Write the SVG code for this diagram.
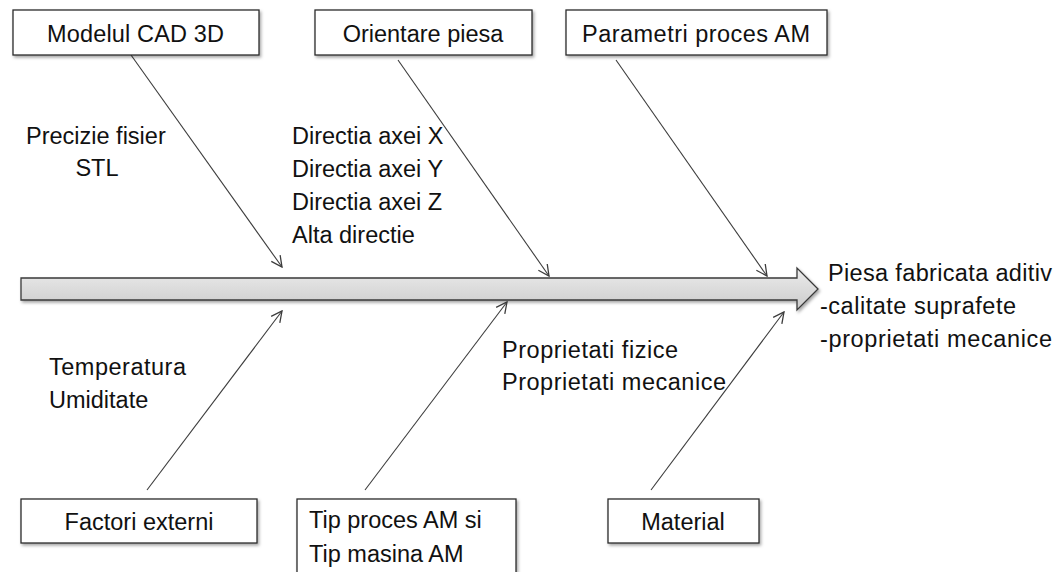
<svg xmlns="http://www.w3.org/2000/svg" width="1055" height="572" viewBox="0 0 1055 572">
<defs>
<style>
.box{fill:#fff;stroke:#2b2b2b;stroke-width:1.3;filter:url(#sh)}
.t{font-family:"Liberation Sans",Arial,sans-serif;font-size:23.5px;fill:#111}
.c{text-anchor:middle}
.ln{stroke:#3c3c3c;stroke-width:1.1;fill:none;marker-end:url(#ah)}
</style>
<filter id="sh" x="-10%" y="-20%" width="120%" height="150%">
<feDropShadow dx="1.5" dy="2" stdDeviation="1.5" flood-color="#000" flood-opacity="0.35"/>
</filter>
<linearGradient id="g" x1="0" y1="0" x2="0" y2="1">
<stop offset="0" stop-color="#ececec"/>
<stop offset="1" stop-color="#cbcbcb"/>
</linearGradient>
<marker id="ah" viewBox="0 0 12 12" refX="11" refY="6" markerWidth="13" markerHeight="13" markerUnits="userSpaceOnUse" orient="auto">
<path d="M1,1 L11,6 L1,11" fill="none" stroke="#3c3c3c" stroke-width="1.2"/>
</marker>
</defs>

<g id="spine">
<path d="M21,278 L797,278 L797,268 L818,289 L797,310 L797,300 L21,300 Z" fill="url(#g)" stroke="#3a3a3a" stroke-width="1.3" filter="url(#sh)"/>
</g>

<g id="connectors">
<line class="ln" x1="131" y1="55" x2="282" y2="267"/>
<line class="ln" x1="398" y1="60" x2="549" y2="276"/>
<line class="ln" x1="616" y1="60" x2="767" y2="276"/>
<line class="ln" x1="147" y1="490" x2="282" y2="311"/>
<line class="ln" x1="365" y1="490" x2="507" y2="302"/>
<line class="ln" x1="651" y1="490" x2="784" y2="312"/>
</g>

<g id="n-modelul">
<rect class="box" x="13" y="10" width="246" height="45"/>
<text class="t" x="47" y="42" textLength="177" lengthAdjust="spacing">Modelul CAD 3D</text>
</g>
<g id="n-orientare">
<rect class="box" x="315" y="10" width="217" height="45"/>
<text class="t c" x="423" y="42">Orientare piesa</text>
</g>
<g id="n-parametri">
<rect class="box" x="566" y="10" width="261" height="45"/>
<text class="t" x="582" y="42" textLength="228" lengthAdjust="spacing">Parametri proces AM</text>
</g>
<g id="n-factori">
<rect class="box" x="21" y="499" width="236" height="44"/>
<text class="t c" x="139" y="530">Factori externi</text>
</g>
<g id="n-tip">
<rect class="box" x="297" y="499" width="219" height="80"/>
<text class="t" x="309" y="528">Tip proces AM si</text>
<text class="t" x="309" y="562">Tip masina AM</text>
</g>
<g id="n-material">
<rect class="box" x="608" y="499" width="151" height="44"/>
<text class="t c" x="683" y="530">Material</text>
</g>

<g id="labels">
<text class="t" x="26" y="144">Precizie fisier</text>
<text class="t c" x="97" y="176">STL</text>
<text class="t" x="292" y="144">Directia axei X</text>
<text class="t" x="292" y="177">Directia axei Y</text>
<text class="t" x="292" y="210">Directia axei Z</text>
<text class="t" x="292" y="243">Alta directie</text>
<text class="t" x="49" y="375" textLength="137" lengthAdjust="spacing">Temperatura</text>
<text class="t" x="49" y="408">Umiditate</text>
<text class="t" x="502" y="358" textLength="176" lengthAdjust="spacing">Proprietati fizice</text>
<text class="t" x="502" y="390" textLength="224" lengthAdjust="spacing">Proprietati mecanice</text>
</g>

<g id="n-result">
<text class="t" x="828" y="281" textLength="224" lengthAdjust="spacing">Piesa fabricata aditiv</text>
<text class="t" x="820" y="314" textLength="196" lengthAdjust="spacing">-calitate suprafete</text>
<text class="t" x="820" y="347" textLength="232" lengthAdjust="spacing">-proprietati mecanice</text>
</g>
</svg>
